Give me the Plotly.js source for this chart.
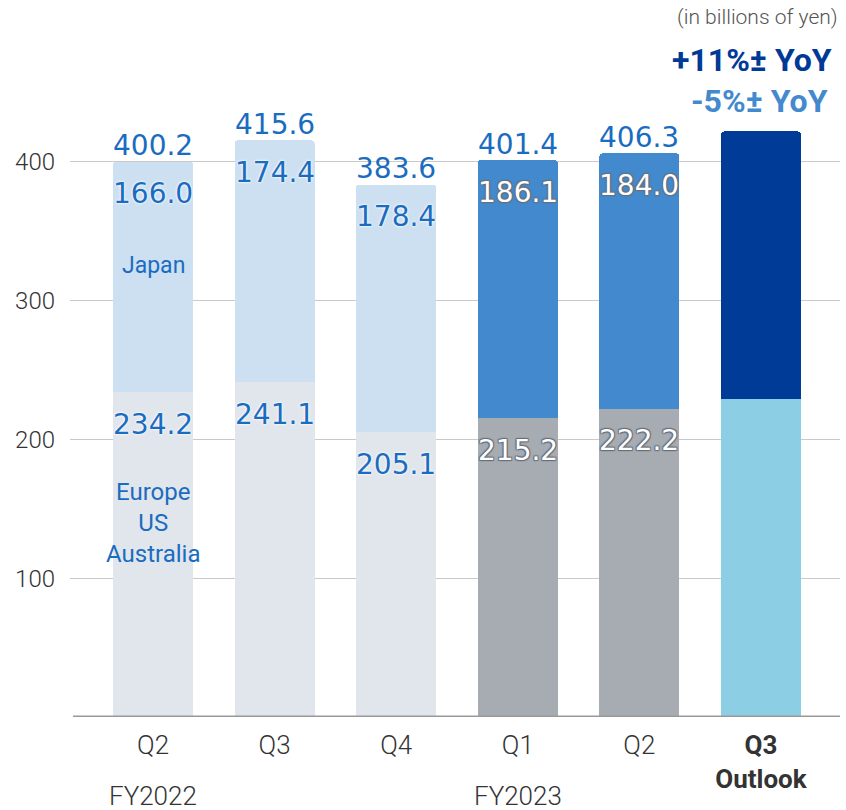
<!DOCTYPE html>
<html>
<head>
<meta charset="utf-8">
<script src="https://cdn.plot.ly/plotly-3.0.1.min.js"></script>
<style>html,body{margin:0;padding:0;background:#fff;}#chart{width:846px;height:810px;}</style>
</head>
<body>
<div id="chart"></div>
<script>
// ---- data ----
var categoryIds = ['FY2022 Q2', 'FY2022 Q3', 'FY2022 Q4', 'FY2023 Q1', 'FY2023 Q2', 'FY2023 Q3 Outlook'];
var tickLabels = ['Q2', 'Q3', 'Q4', 'Q1', 'Q2', '<b>Q3</b><br><b>Outlook</b>'];
var europeUsAustralia = [234.2, 241.1, 205.1, 215.2, 222.2, 229.0];
var japan = [166.0, 174.4, 178.4, 186.1, 184.0, 193.0];
var totals = [400.2, 415.6, 383.6, 401.4, 406.3];
var fiscalYears = [{label: 'FY2022', at: 0}, {label: 'FY2023', at: 3}];
var outlookNotes = ['+11%± YoY', '-5%± YoY'];

// ---- styles ----
var bottomColors = ['#e1e6ed', '#e1e6ed', '#e1e6ed', '#a7acb3', '#a7acb3', '#8ccee3'];
var topColors = ['#cde0f1', '#cde0f1', '#cde0f1', '#428acd', '#428acd', '#003b98'];
var blue = '#1a6cc0';
var numFont = '"DejaVu Sans", sans-serif';
var axisFont = 'Roboto, sans-serif';
var darkHalo = '1px 1px 1px #66707c, -1px -1px 1px #66707c, 1px -1px 1px #66707c, -1px 1px 1px #66707c';
var lightHalo = '0px 0px 3px #ffffff, 0px 0px 2px #ffffff';

var traces = [
  {type: 'bar', x: categoryIds, y: europeUsAustralia, marker: {color: bottomColors}, hoverinfo: 'none', name: 'Europe US Australia'},
  {type: 'bar', x: categoryIds, y: japan, marker: {color: topColors}, hoverinfo: 'none', name: 'Japan'}
];

var annotations = [];
for (var i = 0; i < totals.length; i++) {
  var darkBar = i >= 3;
  annotations.push({x: categoryIds[i], y: totals[i], xref: 'x', yref: 'y', text: totals[i].toFixed(1),
    showarrow: false, yanchor: 'middle', yshift: 16,
    font: {family: numFont, size: 28, color: blue}});
  annotations.push({x: categoryIds[i], y: europeUsAustralia[i] + japan[i], xref: 'x', yref: 'y', text: japan[i].toFixed(1),
    showarrow: false, yanchor: 'middle', yshift: -32,
    font: {family: numFont, size: 28, color: darkBar ? '#ffffff' : blue, shadow: darkBar ? darkHalo : lightHalo}});
  annotations.push({x: categoryIds[i], y: europeUsAustralia[i], xref: 'x', yref: 'y', text: europeUsAustralia[i].toFixed(1),
    showarrow: false, yanchor: 'middle', yshift: -32,
    font: {family: numFont, size: 28, color: darkBar ? '#ffffff' : blue, shadow: darkBar ? darkHalo : lightHalo}});
}
annotations.push({x: categoryIds[0], y: 325.5, xref: 'x', yref: 'y', text: 'Japan', showarrow: false,
  font: {family: 'Roboto, sans-serif', size: 23, color: blue}});
annotations.push({x: categoryIds[0], y: 139.5, xref: 'x', yref: 'y', text: 'Europe<br>US<br>Australia', showarrow: false,
  font: {family: 'Roboto, sans-serif', size: 24, color: blue}});
fiscalYears.forEach(function (fy) {
  annotations.push({x: categoryIds[fy.at], y: 0, xref: 'x', yref: 'paper', yanchor: 'middle', yshift: -79,
    text: fy.label, showarrow: false, font: {family: axisFont, size: 26, weight: 300, color: '#333333'}});
});
annotations.push({x: 1, y: 1, xref: 'paper', yref: 'paper', xanchor: 'right', yanchor: 'middle',
  xshift: 0, yshift: 43, text: '(in billions of yen)', showarrow: false,
  font: {family: 'Roboto, sans-serif', size: 21, weight: 300, color: '#555555'}});
annotations.push({x: 1, y: 1, xref: 'paper', yref: 'paper', xanchor: 'right', yanchor: 'middle',
  xshift: -6, yshift: 0, text: '<b>' + outlookNotes[0] + '</b>', showarrow: false,
  font: {family: 'Roboto, sans-serif', size: 32, color: '#003a96'}});
annotations.push({x: 1, y: 1, xref: 'paper', yref: 'paper', xanchor: 'right', yanchor: 'middle',
  xshift: -10, yshift: -41, text: '<b>' + outlookNotes[1] + '</b>', showarrow: false,
  font: {family: 'Roboto, sans-serif', size: 32, color: '#428acd'}});

var layout = {
  width: 846, height: 810,
  margin: {l: 70, r: 6, t: 60, b: 93},
  paper_bgcolor: '#ffffff', plot_bgcolor: '#ffffff',
  barmode: 'stack', bargap: 0.342, barcornerradius: 3,
  showlegend: false,
  xaxis: {type: 'category', range: [-0.683, 5.65], tickvals: categoryIds, ticktext: tickLabels,
    showgrid: false, showline: false, zeroline: false, ticks: '', ticklabelstandoff: 10,
    tickfont: {family: axisFont, size: 26, weight: 300, color: '#333333'}, fixedrange: true},
  yaxis: {range: [0, 473.5], tickvals: [100, 200, 300, 400], showgrid: true, gridcolor: '#c9c9c9', gridwidth: 1,
    zeroline: false, showline: false, ticks: '', ticklabelstandoff: 14,
    tickfont: {family: axisFont, size: 24, weight: 300, color: '#333333'}, fixedrange: true},
  shapes: [{type: 'line', xref: 'paper', yref: 'y', x0: 0.004, x1: 1, y0: 0, y1: 0,
    line: {color: '#999999', width: 3}, layer: 'above'}],
  annotations: annotations
};

Plotly.newPlot('chart', traces, layout, {staticPlot: true});
</script>
</body>
</html>
